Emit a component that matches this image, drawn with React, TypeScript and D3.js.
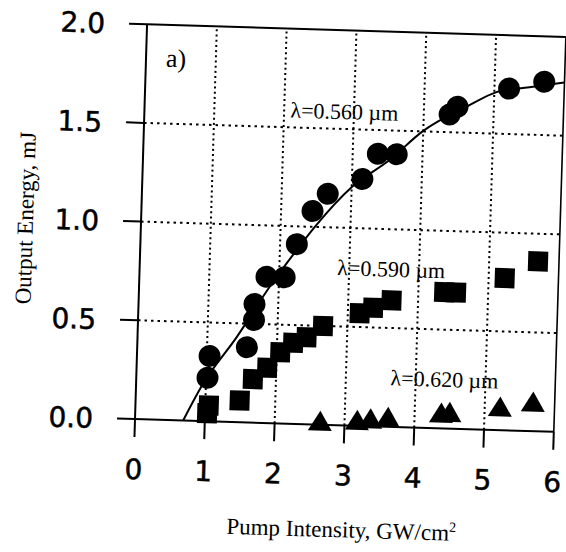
import React from "react";
import * as d3 from "d3";

// ---- data ----
const xTicks = [0, 1, 2, 3, 4, 5, 6];
const yTicks = [0, 0.5, 1.0, 1.5, 2.0];
const xGrid = [1, 2, 3, 4, 5];
const yGrid = [0.5, 1.0, 1.5];

// λ = 0.560 µm (circles)
const circX = [1.02, 1.04, 1.57, 1.66, 1.66, 1.82, 2.08, 2.24, 2.45, 2.66, 3.15, 3.36, 3.63, 4.37, 4.48, 5.21, 5.71];
const circY = [0.22, 0.33, 0.38, 0.52, 0.60, 0.74, 0.74, 0.91, 1.08, 1.17, 1.25, 1.38, 1.38, 1.59, 1.63, 1.73, 1.77];

// λ = 0.590 µm (squares)
const sqX = [1.03, 1.05, 1.49, 1.67, 1.87, 2.05, 2.23, 2.42, 2.65, 3.17, 3.36, 3.62, 4.37, 4.54, 5.23, 5.70];
const sqY = [0.04, 0.08, 0.11, 0.22, 0.28, 0.36, 0.41, 0.44, 0.50, 0.57, 0.60, 0.64, 0.69, 0.69, 0.77, 0.86];

// λ = 0.620 µm (triangles)
const triX = [2.65, 3.18, 3.37, 3.62, 4.38, 4.50, 5.22, 5.69];
const triY = [0.02, 0.03, 0.04, 0.05, 0.08, 0.085, 0.12, 0.15];

// fit curve through the 0.560 µm data
const fitX = [0.69, 0.96, 1.42, 1.87, 2.24, 2.49, 3.01, 3.53, 3.99, 4.65, 5.03, 5.50, 6.0];
const fitY = [0.0, 0.19, 0.43, 0.69, 0.88, 1.00, 1.21, 1.35, 1.50, 1.64, 1.71, 1.74, 1.77];

const labels = ["λ=0.560 µm", "λ=0.590 µm", "λ=0.620 µm"];
const labelX = [2.09, 2.83, 3.64];
const labelY = [1.55, 0.76, 0.21];

const W = 566;
const H = 552;

export default function App() {
  const x = d3.scaleLinear().domain([0, 6]).range([135, 554]);
  const y = d3.scaleLinear().domain([0, 2]).range([419, 24]);
  const line = d3
    .line<number>()
    .x((_, i) => x(fitX[i]))
    .y((_, i) => y(fitY[i]))
    .curve(d3.curveMonotoneX);

  const sq = 20;
  const triW = 24;
  const triH = 20;
  const tickLen = 18;
  const serif = "'Liberation Serif', 'Times New Roman', serif";
  const sans = "'DejaVu Sans', Arial, sans-serif";

  return (
    <svg
      width={W}
      height={H}
      viewBox={`0 0 ${W} ${H}`}
      style={{ position: "absolute", left: 0, top: 0, background: "#fff" }}
    >
      <rect x={0} y={0} width={W} height={H} fill="#fff" />
      <g transform={`rotate(1.75 ${x(0)} ${y(0)})`}>
        {/* grid */}
        {xGrid.map((v) => (
          <line key={"gx" + v} x1={x(v)} x2={x(v)} y1={y(0)} y2={y(2)} stroke="#000" strokeWidth={2} strokeDasharray="2 3.2" />
        ))}
        {yGrid.map((v) => (
          <line key={"gy" + v} x1={x(0)} x2={x(6)} y1={y(v)} y2={y(v)} stroke="#000" strokeWidth={2} strokeDasharray="2.5 4" />
        ))}

        {/* frame */}
        <line x1={x(0)} x2={x(0)} y1={y(0)} y2={y(2)} stroke="#000" strokeWidth={2} />
        <line x1={x(0)} x2={x(6)} y1={y(2)} y2={y(2)} stroke="#000" strokeWidth={2} />
        <line x1={x(6)} x2={x(6)} y1={y(0)} y2={y(2)} stroke="#000" strokeWidth={1.6} />
        <line x1={x(0)} x2={x(6)} y1={y(0)} y2={y(0)} stroke="#000" strokeWidth={2} />

        {/* y ticks */}
        {yTicks.map((v) => (
          <g key={"yt" + v}>
            <line x1={x(0) - tickLen} x2={x(0)} y1={y(v)} y2={y(v)} stroke="#000" strokeWidth={2} />
            <text x={x(0) - 42} y={y(v)} dy="0.36em" textAnchor="end" fontFamily={sans} fontSize={28} fill="#000" stroke="#000" strokeWidth={0.5}>
              {v.toFixed(1)}
            </text>
          </g>
        ))}

        {/* x ticks */}
        {xTicks.map((v) => (
          <g key={"xt" + v}>
            <line x1={x(v)} x2={x(v)} y1={y(0)} y2={y(0) + tickLen} stroke="#000" strokeWidth={2} />
            <text x={x(v)} y={y(0) + 60} textAnchor="middle" fontFamily={sans} fontSize={28} fill="#000" stroke="#000" strokeWidth={0.5}>
              {v}
            </text>
          </g>
        ))}

        {/* fit curve */}
        <path d={line(fitX) || ""} fill="none" stroke="#000" strokeWidth={2} />

        {/* circles */}
        {circX.map((v, i) => (
          <circle key={"c" + i} cx={x(v)} cy={y(circY[i])} r={11} fill="#000" />
        ))}

        {/* squares */}
        {sqX.map((v, i) => (
          <rect key={"s" + i} x={x(v) - sq / 2} y={y(sqY[i]) - sq / 2} width={sq} height={sq} fill="#000" />
        ))}

        {/* triangles */}
        {triX.map((v, i) => {
          const cx = x(v);
          const cy = y(triY[i]);
          return (
            <path
              key={"t" + i}
              d={`M${cx},${cy - triH / 2}L${cx + triW / 2},${cy + triH / 2}L${cx - triW / 2},${cy + triH / 2}Z`}
              fill="#000"
            />
          );
        })}

        {/* annotations */}
        {labels.map((t, i) => (
          <text key={"l" + i} x={x(labelX[i])} y={y(labelY[i])} fontFamily={serif} fontSize={22} fill="#000">
            {t}
          </text>
        ))}
        <text x={155} y={66} fontFamily={serif} fontSize={26} fill="#000">
          a)
        </text>

        {/* axis titles */}
        <text x={(x(0) + x(6)) / 2} y={531} textAnchor="middle" fontFamily={serif} fontSize={23} fill="#000">
          Pump Intensity, GW/cm
          <tspan dy={-9} fontSize={14}>2</tspan>
        </text>
        <text
          transform={`translate(27, ${(y(0) + y(2)) / 2}) rotate(-90)`}
          textAnchor="middle"
          fontFamily={serif}
          fontSize={23}
          fill="#000"
        >
          Output Energy, mJ
        </text>
      </g>
    </svg>
  );
}
